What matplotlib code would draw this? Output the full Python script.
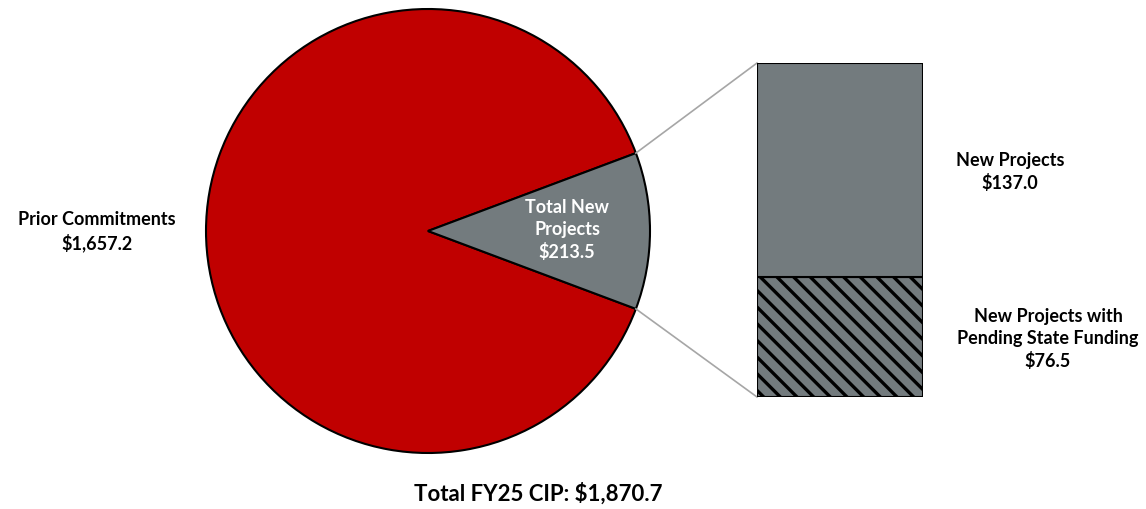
import numpy as np
import matplotlib
matplotlib.use("Agg")
import matplotlib.pyplot as plt

plt.rcParams['font.family'] = ['Lato', 'DejaVu Sans']
plt.rcParams['hatch.linewidth'] = 2.4
plt.rcParams['hatch.color'] = '#303331'

# data (millions)
pie_labels = ["Prior Commitments", "Total New Projects"]
pie_values = [1657.2, 213.5]
bar_labels = ["New Projects", "New Projects with\nPending State Funding"]
bar_values = [76.5, 137.0]  # bottom segment first
total = 1870.7

red = '#c00000'
gray = '#737b7e'

W, H = 1146, 510
fig = plt.figure(figsize=(W / 100, H / 100), dpi=100)
ax = fig.add_axes([0, 0, 1, 1])

cx, cy, r = 428, 510 - 232, 222
new_frac = pie_values[1] / sum(pie_values)
start = 360 * new_frac / 2
ax.pie(pie_values, colors=[red, gray], startangle=start, center=(cx, cy),
       radius=r, wedgeprops=dict(edgecolor='black', linewidth=1.5),
       frame=True)
ax.set_xlim(0, W)
ax.set_ylim(0, H)
ax.set_aspect('equal')
ax.axis('off')

# bar of pie
bx0, by0, bw, bh = 757, 510 - 398, 166, 334
bax = fig.add_axes([bx0 / W, by0 / H, bw / W, bh / H])
bax.bar(0, bar_values[0], width=1, color=gray, edgecolor='black',
        linewidth=1.5, hatch='\\\\')
bax.bar(0, bar_values[1], bottom=bar_values[0], width=1, color=gray,
        edgecolor='black', linewidth=1.5)
bax.set_xlim(-0.5, 0.5)
bax.set_ylim(0, sum(bar_values))
bax.axis('off')

# connector lines
th = np.radians(start)
ax.plot([cx + r * np.cos(th), bx0], [cy + r * np.sin(th), by0 + bh],
        color='#a6a6a6', lw=1.2)
ax.plot([cx + r * np.cos(th), bx0], [cy - r * np.sin(th), by0],
        color='#a6a6a6', lw=1.2)

fs = 13
ax.text(97, 510 - 232, "%s\n$%s" % (pie_labels[0], f"{pie_values[0]:,.1f}"),
        ha='center', va='center', fontsize=fs, fontweight='bold',
        linespacing=1.35)
ax.text(567, 510 - 230, "Total New\nProjects\n$%.1f" % pie_values[1],
        ha='center', va='center', fontsize=fs, fontweight='bold',
        color='white', linespacing=1.35)
ax.text(1010, 510 - 172, "%s\n$%.1f" % (bar_labels[0], bar_values[1]),
        ha='center', va='center', fontsize=fs, fontweight='bold',
        linespacing=1.35)
ax.text(1048, 510 - 339, "%s\n$%.1f" % (bar_labels[1], bar_values[0]),
        ha='center', va='center', fontsize=fs, fontweight='bold',
        linespacing=1.35)
ax.text(538, 510 - 494, "Total FY25 CIP: $%s" % f"{total:,.1f}",
        ha='center', va='center', fontsize=16, fontweight='bold')

fig.savefig("out.png", dpi=100, facecolor='white')
